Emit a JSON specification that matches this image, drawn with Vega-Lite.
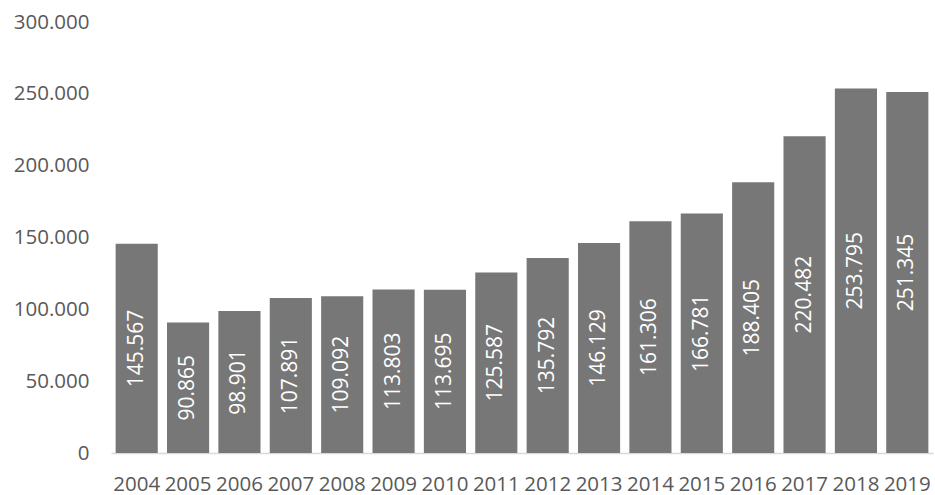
{
  "$schema": "https://vega.github.io/schema/vega-lite/v6.json",
  "autosize": "none",
  "width": 822,
  "height": 431,
  "padding": {"left": 111, "top": 22, "right": 2, "bottom": 42},
  "background": "white",
  "data": {"values": [
    {"year": "2004", "value": 145567},
    {"year": "2005", "value": 90865},
    {"year": "2006", "value": 98901},
    {"year": "2007", "value": 107891},
    {"year": "2008", "value": 109092},
    {"year": "2009", "value": 113803},
    {"year": "2010", "value": 113695},
    {"year": "2011", "value": 125587},
    {"year": "2012", "value": 135792},
    {"year": "2013", "value": 146129},
    {"year": "2014", "value": 161306},
    {"year": "2015", "value": 166781},
    {"year": "2016", "value": 188405},
    {"year": "2017", "value": 220482},
    {"year": "2018", "value": 253795},
    {"year": "2019", "value": 251345}
  ]},
  "transform": [{"calculate": "datum.value / 2", "as": "mid"}],
  "config": {"view": {"stroke": null}, "font": "Open Sans"},
  "encoding": {
    "x": {"field": "year", "type": "ordinal", "scale": {"paddingInner": 0.18, "paddingOuter": 0.09},
      "axis": {"title": null, "labelAngle": 0, "ticks": false, "domainColor": "#d9d9d9", "domainWidth": 1.5,
        "labelColor": "#595959", "labelFontSize": 20.5, "labelPadding": 21, "labelFont": "Open Sans", "labelOverlap": false}}
  },
  "layer": [
    {"mark": {"type": "bar", "color": "#777777"},
     "encoding": {"y": {"field": "value", "type": "quantitative", "scale": {"domain": [0, 300000]},
       "axis": {"title": null, "values": [0, 50000, 100000, 150000, 200000, 250000, 300000], "grid": false, "domain": false, "ticks": false,
         "labelExpr": "replace(format(datum.value, ','), ',', '.')",
         "labelColor": "#595959", "labelFontSize": 20.5, "labelPadding": 22, "labelFont": "Open Sans"}}}},
    {"mark": {"type": "text", "angle": 270, "color": "white", "fontSize": 21, "align": "center", "baseline": "middle", "font": "Open Sans"},
     "encoding": {"y": {"field": "mid", "type": "quantitative"},
       "text": {"value": {"expr": "replace(format(datum.value, ','), ',', '.')"}}}}
  ]
}
